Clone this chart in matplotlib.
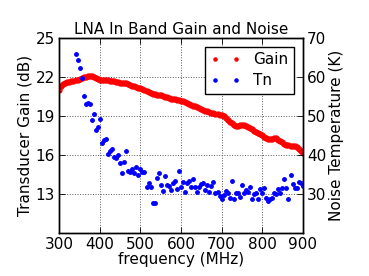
import numpy as np
import matplotlib
matplotlib.use("Agg")
import matplotlib.pyplot as plt

freq_gain = list(range(300, 905, 5))
gain_db = [20.95, 21.25, 21.45, 21.55, 21.6, 21.62, 21.65, 21.7, 21.75, 21.78,
           21.85, 21.88, 21.95, 22.0, 22.02, 22.05, 22.05, 22.0, 21.92, 21.82,
           21.75, 21.72, 21.75, 21.75, 21.72, 21.7, 21.68, 21.65, 21.6, 21.57,
           21.52, 21.5, 21.48, 21.48, 21.42, 21.36, 21.3, 21.25, 21.2, 21.15,
           21.1, 21.05, 20.98, 20.92, 20.85, 20.78, 20.7, 20.65, 20.6, 20.62,
           20.58, 20.52, 20.45, 20.4, 20.36, 20.32, 20.3, 20.27, 20.24, 20.2,
           20.16, 20.1, 20.02, 19.95, 19.9, 19.83, 19.77, 19.73, 19.68, 19.6,
           19.52, 19.45, 19.38, 19.35, 19.3, 19.24, 19.2, 19.15, 19.1, 19.05,
           19.02, 18.95, 18.82, 18.68, 18.52, 18.42, 18.3, 18.24, 18.23, 18.25,
           18.27, 18.25, 18.22, 18.15, 18.05, 17.95, 17.85, 17.77, 17.68, 17.6,
           17.5, 17.38, 17.28, 17.22, 17.2, 17.24, 17.27, 17.25, 17.15, 17.05,
           16.95, 16.82, 16.75, 16.72, 16.7, 16.68, 16.65, 16.58, 16.45, 16.3,
           16.1]

freq_tn = list(range(340, 905, 5))
tn_k = [65.8, 64.3, 62.2, 59.6, 55.0, 53.0, 53.3, 53.0, 48.8, 50.4,
        46.4, 47.0, 49.2, 42.9, 43.8, 44.0, 40.1, 41.0, 41.5, 39.5,
        39.1, 39.8, 37.9, 35.4, 38.1, 41.0, 35.9, 35.6, 36.4, 35.3,
        36.9, 34.7, 36.3, 35.5, 35.6, 31.8, 32.8, 31.6, 27.5, 27.5,
        34.1, 35.3, 32.2, 30.8, 34.5, 32.2, 32.0, 30.9, 32.7, 33.3,
        31.2, 35.9, 31.8, 32.9, 30.4, 32.8, 33.3, 31.7, 33.7, 31.7,
        30.4, 31.8, 32.4, 32.7, 31.0, 32.2, 30.4, 32.1, 33.0, 30.2,
        30.5, 29.4, 28.6, 29.7, 30.7, 30.3, 28.8, 33.2, 28.6, 30.3,
        30.1, 29.2, 32.3, 30.2, 31.0, 30.4, 31.6, 28.7, 29.8, 30.3,
        28.7, 31.1, 30.1, 31.4, 29.0, 28.0, 28.6, 28.8, 30.1, 30.0,
        31.1, 30.1, 31.4, 33.8, 31.5, 28.6, 34.7, 32.4, 31.5, 31.4,
        33.0, 32.7, 32.1]

x_ticks = [300, 400, 500, 600, 700, 800, 900]
gain_ticks = [13, 16, 19, 22, 25]
tn_ticks = [30, 40, 50, 60, 70]

fs = 11
plt.rcParams['font.family'] = ['DejaVu Sans']
fig = plt.figure(figsize=(3.69, 2.76), dpi=100)
ax = fig.add_axes([0.1607, 0.1569, 0.6596, 0.7065])
ax2 = ax.twinx()

l1, = ax.plot(freq_gain, gain_db, '.', color='red', markersize=7)
l2, = ax2.plot(freq_tn, tn_k, '.', color='blue', markersize=5)

ax.set_xlim(300, 900)
ax.set_ylim(10, 25)
ax2.set_ylim(20, 70)
ax.set_xticks(x_ticks)
ax.set_yticks(gain_ticks)
ax2.set_yticks(tn_ticks)
ax.grid(True, color='0.35', linestyle=':', linewidth=0.7)

for a in (ax, ax2):
    a.tick_params(direction='in', labelsize=fs, length=4, width=0.6, pad=3)
    for s in a.spines.values():
        s.set_linewidth(1.0)
ax.tick_params(top=True)

ax.set_xlabel('frequency (MHz)', fontsize=fs, labelpad=0)
ax.set_ylabel('Transducer Gain (dB)', fontsize=fs, labelpad=2)
ax2.set_ylabel('Noise Temperature (K)', fontsize=fs, labelpad=2)
ax.set_title('LNA In Band Gain and Noise', fontsize=fs, pad=3)

leg = ax2.legend([l1, l2], ['Gain', 'Tn'], loc='upper right', numpoints=2,
                 fontsize=fs, fancybox=False, framealpha=1,
                 edgecolor='k', borderpad=0.35, handlelength=2.0,
                 labelspacing=0.4, borderaxespad=0.6)
leg.get_frame().set_linewidth(1.0)
for h in leg.legend_handles:
    h.set_markersize(4.5)

fig.savefig('out.png', dpi=100, facecolor='white')
